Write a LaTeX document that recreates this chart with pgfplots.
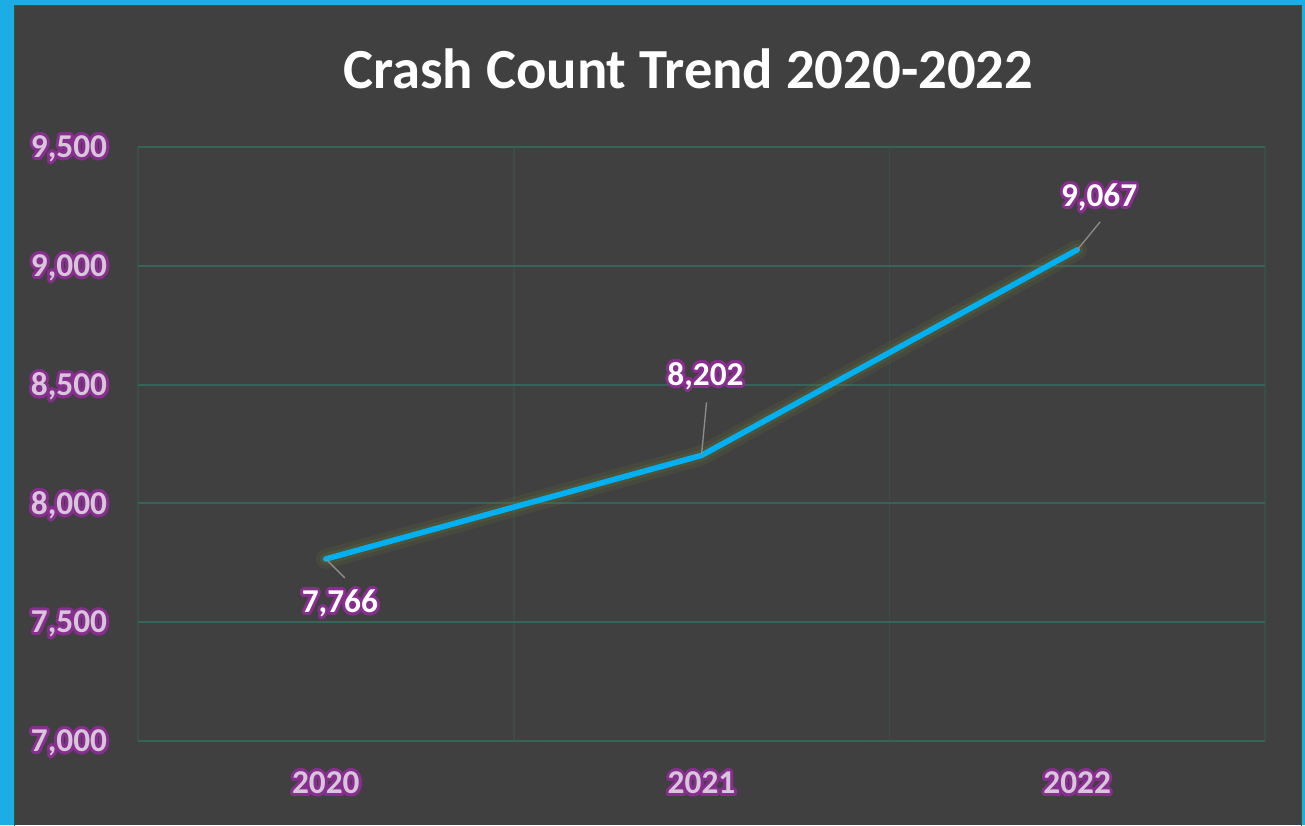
\documentclass[border=0pt]{standalone}
\usepackage{pgfplots}
\pgfplotsset{compat=1.18}
\usepackage{fontspec}
\setmainfont{Carlito}
\usepackage[copies]{contour}
\contourlength{1.7pt}
\contournumber{32}
\definecolor{bluebord}{HTML}{1BADE4}
\definecolor{bg}{HTML}{404040}
\definecolor{edgec}{HTML}{3E5A2C}
\definecolor{linec}{HTML}{00B0F0}
\definecolor{gridc}{HTML}{35645A}
\definecolor{vgrid}{HTML}{3B4D48}
\definecolor{lav}{HTML}{D8C6DA}
\definecolor{glow}{HTML}{872E8F}
\definecolor{lglow}{HTML}{66733A}
\newcommand\gl[1]{\contour{glow}{#1}}
\begin{document}
\begin{tikzpicture}
\fill[bluebord] (0,0) rectangle (783pt,495pt);
\useasboundingbox (0,0) rectangle (783pt,495pt);
\fill[bg] (8.4pt,0) rectangle (781.2pt,492pt);
\draw[edgec, line width=0.8pt] (8.8pt,-1pt) -- (8.8pt,491.6pt) -- (780.8pt,491.6pt) -- (780.8pt,-1pt);
\node[text=white,font=\fontsize{34}{40}\selectfont\bfseries] at (413pt,453.6pt) {Crash Count Trend 2020-2022};
\begin{axis}[
  at={(82.8pt,50.4pt)}, anchor=south west,
  width=676.2pt, height=356.4pt, scale only axis,
  xmin=-0.5, xmax=2.5, ymin=7000, ymax=9500,
  xtick={0,1,2},
  xticklabels={{\gl{2020}},{\gl{2021}},{\gl{2022}}},
  ytick={7000,7500,8000,8500,9000,9500},
  yticklabels={{\gl{7,000}},{\gl{7,500}},{\gl{8,000}},{\gl{8,500}},{\gl{9,000}},{\gl{9,500}}},
  minor xtick={-0.5,0.5,1.5,2.5},
  xminorgrids, minor grid style={vgrid, line width=1pt},
  ymajorgrids, major grid style={gridc, line width=1.3pt},
  axis line style={draw=none}, tick style={draw=none},
  xticklabel style={text=lav, font=\fontsize{20}{24}\selectfont\bfseries},
  yticklabel style={text=lav, font=\fontsize{20}{24}\selectfont\bfseries, yshift=-2pt},
  xticklabel shift={15pt},
  yticklabel shift={15pt},
  clip=false,
]
\addplot[lglow, line width=12pt, opacity=0.18, line join=round, line cap=round] coordinates {(0,7766) (1,8202) (2,9067)};
\addplot[lglow, line width=7pt, opacity=0.25, line join=round, line cap=round] coordinates {(0,7766) (1,8202) (2,9067)};
\addplot[linec, line width=3.4pt, mark=none, line join=round, line cap=round] coordinates {(0,7766) (1,8202) (2,9067)};
\draw[gray!90, line width=0.8pt] (axis cs:0,7766) -- ++(11.4pt,-11.4pt);
\draw[gray!90, line width=0.8pt] (axis cs:1,8202) -- ++(3pt,31.8pt);
\draw[gray!90, line width=0.8pt] (axis cs:2,9067) -- ++(13.8pt,16.8pt);
\node[shift={(8.4pt,-27.6pt)}, text=white, font=\fontsize{20}{24}\selectfont\bfseries] at (axis cs:0,7766) {\gl{7,766}};
\node[shift={(2.4pt,46.8pt)}, text=white, font=\fontsize{20}{24}\selectfont\bfseries] at (axis cs:1,8202) {\gl{8,202}};
\node[shift={(13.2pt,30.6pt)}, text=white, font=\fontsize{20}{24}\selectfont\bfseries] at (axis cs:2,9067) {\gl{9,067}};
\end{axis}
\end{tikzpicture}
\end{document}
